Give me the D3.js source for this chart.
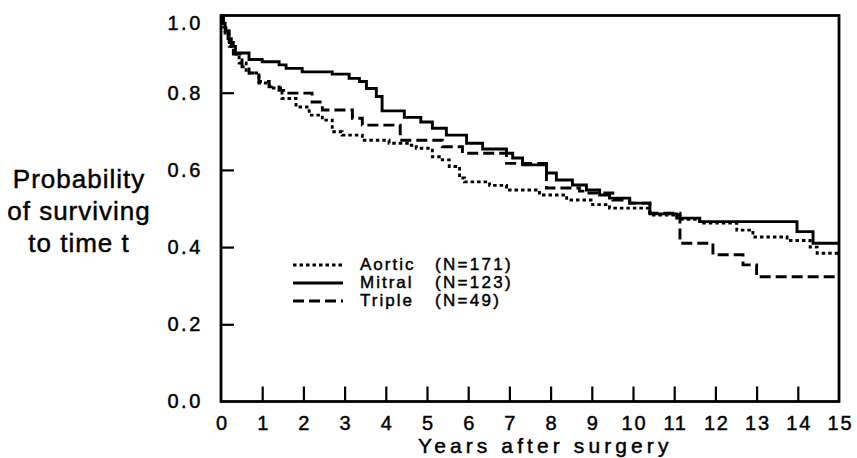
<!DOCTYPE html>
<html>
<head>
<meta charset="utf-8">
<script src="https://cdn.jsdelivr.net/npm/d3@7"></script>
<style>
  html, body { margin: 0; padding: 0; background: #fff; }
  svg { display: block; }
  text { font-family: "Liberation Sans", Arial, Helvetica, sans-serif; fill: #000; stroke: #000; stroke-width: 0.45px; }
</style>
</head>
<body>
<svg id="chart" width="857" height="458"></svg>
<script>
// ---- data ----
const xTickValues = d3.range(0, 16);
const yTickValues = [0, 0.2, 0.4, 0.6, 0.8, 1.0];

const aorticT = [0, 0.04, 0.1, 0.2, 0.3, 0.44, 0.61, 0.92, 1.17, 1.48, 1.82, 2.14, 2.46, 2.70, 2.94, 3.43, 4.08, 4.57, 4.74, 5.13, 5.37, 5.54, 5.79, 5.91, 6.52, 6.93, 7.73, 8.39, 9.02, 9.43, 10.41, 11.14, 11.62, 12.52, 12.91, 13.74, 14.30, 14.47];
const aorticS = [1, 0.97, 0.95, 0.92, 0.90, 0.877, 0.851, 0.825, 0.812, 0.785, 0.763, 0.742, 0.729, 0.699, 0.690, 0.677, 0.669, 0.664, 0.656, 0.634, 0.626, 0.609, 0.579, 0.569, 0.560, 0.548, 0.535, 0.522, 0.510, 0.501, 0.483, 0.472, 0.462, 0.444, 0.426, 0.417, 0.400, 0.384];

const mitralT = [0, 0.04, 0.1, 0.17, 0.25, 0.35, 0.68, 1.0, 1.41, 1.58, 1.97, 2.70, 3.11, 3.36, 3.53, 3.77, 3.91, 4.45, 4.85, 5.13, 5.47, 5.96, 6.35, 6.93, 7.08, 7.32, 7.90, 8.14, 8.53, 8.87, 9.19, 9.43, 9.92, 10.41, 11.06, 11.62, 13.98, 14.37];
const mitralS = [1, 0.98, 0.96, 0.94, 0.92, 0.903, 0.886, 0.880, 0.872, 0.863, 0.854, 0.848, 0.837, 0.829, 0.811, 0.790, 0.753, 0.736, 0.724, 0.708, 0.690, 0.669, 0.654, 0.643, 0.631, 0.613, 0.592, 0.574, 0.561, 0.548, 0.535, 0.527, 0.514, 0.486, 0.475, 0.466, 0.440, 0.410];

const tripleT = [0, 0.06, 0.12, 0.2, 0.3, 0.51, 0.68, 0.92, 1.17, 1.41, 1.58, 2.21, 2.46, 3.19, 3.43, 4.35, 5.37, 5.86, 6.93, 7.90, 8.70, 8.87, 9.51, 9.92, 10.41, 11.14, 11.94, 12.67, 13.0];
const tripleS = [1, 0.98, 0.96, 0.93, 0.90, 0.867, 0.851, 0.829, 0.815, 0.806, 0.799, 0.776, 0.755, 0.734, 0.716, 0.677, 0.660, 0.643, 0.617, 0.553, 0.545, 0.540, 0.522, 0.514, 0.488, 0.410, 0.380, 0.354, 0.323];

const seriesNames = ["Aortic", "Mitral", "Triple"];
const seriesN = ["(N=171)", "(N=123)", "(N=49)"];
const xMax = 15;

// ---- layout ----
const svg = d3.select("#chart");
const plotLeft = 221, plotRight = 839, plotTop = 15.5, plotBottom = 401.5;

const x = d3.scaleLinear().domain([0, xMax]).range([plotLeft, plotRight]);
const y = d3.scaleLinear().domain([0, 1]).range([plotBottom, plotTop]);

const styles = {
  Aortic: { dash: "3.5,3", width: 2.9 },
  Mitral: { dash: null, width: 2.9 },
  Triple: { dash: "11,5", width: 2.9 }
};

function build(T, S) {
  const pts = T.map((t, i) => ({ t: t, s: S[i] }));
  pts.push({ t: xMax, s: S[S.length - 1] });
  return pts;
}
const series = [
  { name: "Aortic", pts: build(aorticT, aorticS) },
  { name: "Mitral", pts: build(mitralT, mitralS) },
  { name: "Triple", pts: build(tripleT, tripleS) }
];

const line = d3.line().x(d => x(d.t)).y(d => y(d.s)).curve(d3.curveStepAfter);

svg.selectAll("path.curve").data(series).join("path")
  .attr("class", "curve")
  .attr("d", d => line(d.pts))
  .attr("fill", "none")
  .attr("stroke", "#000")
  .attr("stroke-width", d => styles[d.name].width)
  .attr("stroke-dasharray", d => styles[d.name].dash);

// frame
svg.append("rect")
  .attr("x", plotLeft).attr("y", plotTop)
  .attr("width", plotRight - plotLeft).attr("height", plotBottom - plotTop)
  .attr("fill", "none").attr("stroke", "#000").attr("stroke-width", 2.8);

// x axis (ticks inward)
const xAxis = svg.append("g").attr("transform", `translate(0,${plotBottom})`)
  .call(d3.axisBottom(x).tickValues(xTickValues).tickSize(-15).tickPadding(14).tickFormat(d3.format("d")));
xAxis.select(".domain").remove();
xAxis.selectAll(".tick line").attr("stroke", "#000").attr("stroke-width", 2.2);
xAxis.selectAll(".tick text")
  .style("font-family", '"Liberation Sans", Arial, sans-serif')
  .style("font-size", "20px").style("letter-spacing", "1.8px")
  .attr("dx", "0.9").attr("fill", "#000");
xAxis.selectAll(".tick").filter(d => d === 0 || d === 15).select("line").remove();

// y axis (ticks inward)
const yAxis = svg.append("g").attr("transform", `translate(${plotLeft},0)`)
  .call(d3.axisLeft(y).tickValues(yTickValues).tickSize(-13).tickPadding(18).tickFormat(d3.format(".1f")));
yAxis.select(".domain").remove();
yAxis.selectAll(".tick line").attr("stroke", "#000").attr("stroke-width", 2.2);
yAxis.selectAll(".tick").filter(d => d === 0 || d === 1).select("line").remove();
yAxis.selectAll(".tick text")
  .style("font-family", '"Liberation Sans", Arial, sans-serif')
  .style("font-size", "20px").style("letter-spacing", "2.6px")
  .attr("fill", "#000");
yAxis.selectAll(".tick").filter(d => d === 1).select("text").attr("dy", "0.72em");

// axis titles
svg.append("text")
  .attr("x", 418).attr("y", 453)
  .style("font-size", "21px").style("letter-spacing", "4.1px")
  .text("Years after surgery");

const yTitle = ["Probability", "of surviving", "to time t"];
svg.append("g").selectAll("text").data(yTitle).join("text")
  .attr("x", 79).attr("y", (d, i) => 188 + i * 32)
  .attr("text-anchor", "middle")
  .style("font-size", "26px").style("letter-spacing", "1px")
  .text(d => d);

// legend
const leg = svg.append("g");
seriesNames.forEach((name, i) => {
  const ly = 265 + i * 18;
  leg.append("line")
    .attr("x1", 293).attr("x2", 343).attr("y1", ly).attr("y2", ly)
    .attr("stroke", "#000").attr("stroke-width", styles[name].width)
    .attr("stroke-dasharray", styles[name].dash);
  leg.append("text").attr("x", 360).attr("y", ly + 5)
    .style("font-size", "17px").style("letter-spacing", "2px").text(name);
  leg.append("text").attr("x", 435).attr("y", ly + 5)
    .style("font-size", "17px").style("letter-spacing", "2.3px").text(seriesN[i]);
});
</script>
</body>
</html>
